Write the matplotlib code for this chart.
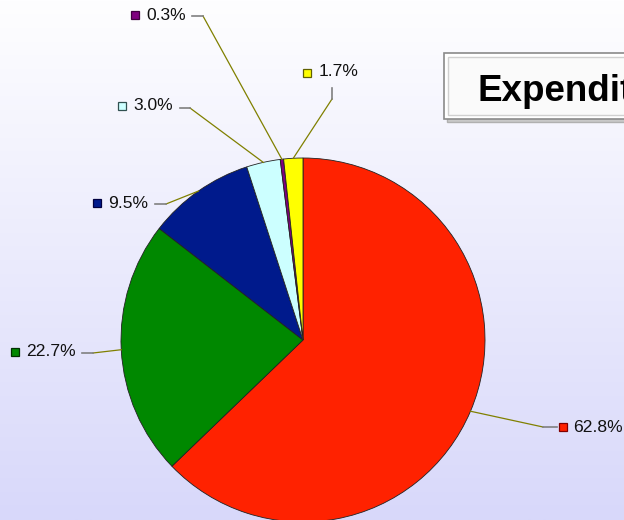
import numpy as np
import matplotlib
matplotlib.use("Agg")
import matplotlib.pyplot as plt
from matplotlib.patches import Rectangle

# ---- data ----
labels = ["62.8%", "22.7%", "9.5%", "3.0%", "0.3%", "1.7%"]
values = [62.8, 22.7, 9.5, 3.0, 0.3, 1.7]
colors = ["#ff2200", "#008800", "#001a8c", "#ccffff", "#800080", "#ffff00"]
marker_edges = ["#800000", "#003000", "#000040", "#305050", "#400040", "#606000"]
title_text = "Expenditure"

W, H = 624, 520
plt.rcParams['font.family'] = ['Liberation Sans', 'DejaVu Sans']

fig = plt.figure(figsize=(W / 100, H / 100), dpi=100)
ax = fig.add_axes([0, 0, 1, 1])

def P(x, y):
    return x, H - y

# background gradient
grad = np.linspace(0, 1, 256).reshape(-1, 1)
top = np.array([0xfe, 0xfe, 0xff]) / 255
bot = np.array([0xd8, 0xd8, 0xfa]) / 255
img = top[None, None, :] * (1 - grad[:, :, None]) + bot[None, None, :] * grad[:, :, None]
ax.imshow(img, extent=(0, W, 0, H), aspect='auto', zorder=0, origin='upper')

cx, cy = P(303, 340)
R = 182
wedges, _ = ax.pie(values, colors=colors, startangle=90, counterclock=False,
                   center=(cx, cy), radius=R,
                   wedgeprops=dict(edgecolor='#222222', linewidth=0.6))
for w in wedges:
    w.set_zorder(2)

# label layout (pixel coords): elbow, gray end, marker center, text x
layout = [
    dict(elbow=(543, 427), gray=(557, 427), marker=(563, 427), text=(573, 427)),
    dict(elbow=(93, 353), gray=(82, 353), marker=(15, 352), text=(26, 352)),
    dict(elbow=(166, 204), gray=(155, 204), marker=(97, 203), text=(108, 203)),
    dict(elbow=(190, 108), gray=(180, 108), marker=(122, 106), text=(133, 106)),
    dict(elbow=(203, 16), gray=(192, 16), marker=(135, 15), text=(146, 16)),
    dict(elbow=(332, 99), gray=(332, 88), marker=(307, 73), text=(319, 72)),
]

for i, w in enumerate(wedges):
    mid = np.deg2rad((w.theta1 + w.theta2) / 2)
    ax_x = cx + R * np.cos(mid)
    ax_y = cy + R * np.sin(mid)
    L = layout[i]
    ex, ey = P(*L['elbow'])
    gx, gy = P(*L['gray'])
    ax.plot([ax_x, ex], [ax_y, ey], color='#808000', lw=0.9, zorder=3)
    ax.plot([ex, gx], [ey, gy], color='#808080', lw=1.2, zorder=3)
    mx, my = P(*L['marker'])
    ax.plot([mx], [my], marker='s', ms=6, mfc=colors[i], mec=marker_edges[i],
            mew=0.9, zorder=4)
    tx, ty = P(*L['text'])
    ax.text(tx, ty, labels[i], fontsize=12.6, color='#111111', ha='left',
            va='center', zorder=4)

# title box
bx0, by0 = 444, 53
bx1, by1 = 640, 119
sx, sy = P(bx0 + 3, by1 + 3)
ax.add_patch(Rectangle((sx, sy), bx1 - bx0, by1 - by0, facecolor='#c8c8c8',
                       edgecolor='#b0b0b0', lw=1, zorder=5))
x0, y0 = P(bx0, by1)
ax.add_patch(Rectangle((x0, y0), bx1 - bx0, by1 - by0, facecolor='#ffffff',
                       edgecolor='#8a8a8a', lw=1.2, zorder=6))
ix, iy = P(bx0 + 4, by1 - 4)
ax.add_patch(Rectangle((ix, iy), bx1 - bx0, by1 - by0 - 8, facecolor='#fafafa',
                       edgecolor='#d0d0d0', lw=1, zorder=6))
tx, ty = P(478, 101)
ax.text(tx, ty, title_text, fontsize=26.5, fontweight='bold', color='#000000',
        ha='left', va='baseline', zorder=7)

ax.set_xlim(0, W)
ax.set_ylim(0, H)
ax.set_aspect('auto')
ax.axis('off')

fig.savefig("out.png", dpi=100)
